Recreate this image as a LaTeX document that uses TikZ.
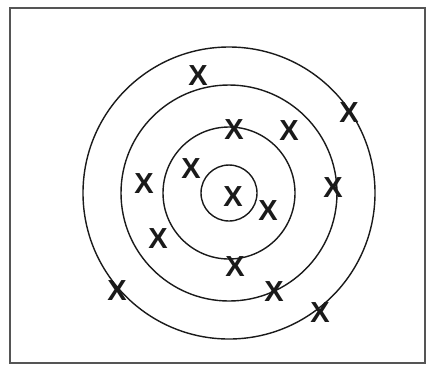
\documentclass[tikz,border=0pt]{standalone}
\usepackage{fontspec}
\setmainfont{Liberation Sans}
\definecolor{Ink}{HTML}{1A1A1A}
\definecolor{Frame}{HTML}{555555}
\tikzset{
  ring/.style={draw=Ink, line width=0.8pt},
  hit/.style={inner sep=0pt, text=Ink, font=\fontsize{16.5}{17}\selectfont\bfseries},
  frame/.style={draw=Frame, line width=1.1pt}
}
\begin{document}
\begin{tikzpicture}[x=0.02cm,y=-0.02cm]
    \useasboundingbox (0,0) rectangle (432,373);
    \draw[frame] (10,8) rectangle (425,363);

    \coordinate (centre) at (229,193);
    \draw[ring] (centre) circle[radius=28];
    \draw[ring] (centre) circle[radius=66];
    \draw[ring] (centre) circle[radius=108];
    \draw[ring] (centre) circle[radius=146];

    \node[hit] (x1) at (198,76) {X}; \node[hit] (x2) at (349,113) {X};
    \node[hit] (x3) at (234,130) {X}; \node[hit] (x4) at (289,131) {X};
    \node[hit] (x5) at (191,169) {X}; \node[hit] (x6) at (144,184) {X};
    \node[hit] (x7) at (233,197) {X}; \node[hit] (x8) at (333,188) {X};
    \node[hit] (x9) at (268,211) {X}; \node[hit] (x10) at (158,239) {X};
    \node[hit] (x11) at (235,267) {X}; \node[hit] (x12) at (274,292) {X};
    \node[hit] (x13) at (117,291) {X}; \node[hit] (x14) at (320,313) {X};
  \end{tikzpicture}
\end{document}
